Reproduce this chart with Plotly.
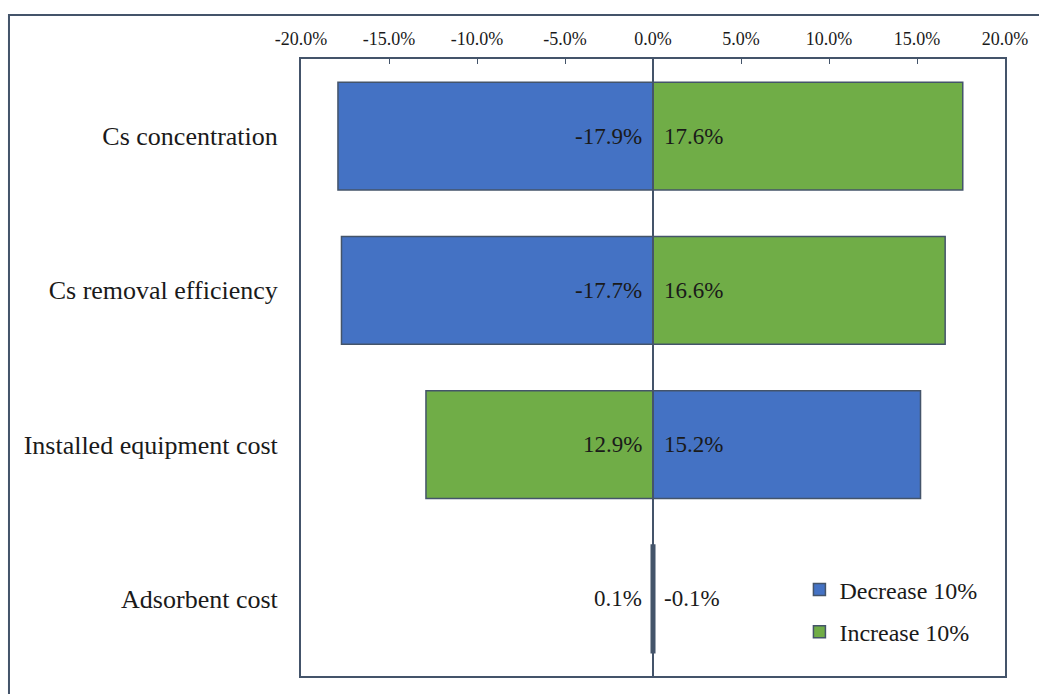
import plotly.graph_objects as go

# Sensitivity of the result to a ±10% change in each input
categories = ["Cs concentration", "Cs removal efficiency", "Installed equipment cost", "Adsorbent cost"]
decrease_vals = [-17.9, -17.7, 15.2, 0.1]
increase_vals = [17.6, 16.6, -12.9, -0.1]
decrease_labels = [-17.9, -17.7, 15.2, -0.1]
increase_labels = [17.6, 16.6, 12.9, 0.1]
tick_vals = [-20, -15, -10, -5, 0, 5, 10, 15, 20]
tick_text = ["-20.0%", "-15.0%", "-10.0%", "-5.0%", "0.0%", "5.0%", "10.0%", "15.0%", "20.0%"]

BLUE = "#4472C4"
GREEN = "#70AD47"
EDGE = "#44546A"
FONT = "Liberation Serif, Times New Roman, serif"

fig = go.Figure()
fig.add_trace(go.Bar(
    y=categories, x=decrease_vals, orientation="h", name="Decrease 10%",
    marker=dict(color=BLUE, line=dict(color=EDGE, width=1.5)),
    width=0.7, legendgroup="dec", hoverinfo="skip",
))
fig.add_trace(go.Bar(
    y=categories, x=increase_vals, orientation="h", name="Increase 10%",
    marker=dict(color=GREEN, line=dict(color=EDGE, width=1.5)),
    width=0.7, legendgroup="inc", hoverinfo="skip",
))

# Value labels sit next to the zero line, on the side of each bar
for vals, labs in ((decrease_vals, decrease_labels), (increase_vals, increase_labels)):
    for cat, v, lab in zip(categories, vals, labs):
        fig.add_annotation(
            x=0, y=cat, text=f"{lab:.1f}%", showarrow=False,
            xanchor="right" if v < 0 else "left",
            xshift=-9 if v < 0 else 9,
            font=dict(family=FONT, size=23, color="#1a1a1a"),
        )

# Zero line
fig.add_shape(type="line", xref="x", yref="paper", x0=0, x1=0, y0=0, y1=1,
              line=dict(color=EDGE, width=2), layer="above")

# Outer chart frame
fig.add_shape(type="rect", xref="paper", yref="paper",
              x0=-0.4148, x1=1.06, y0=-0.05, y1=1.0713,
              line=dict(color=EDGE, width=2), fillcolor="rgba(0,0,0,0)")

fig.update_layout(
    width=1039, height=694,
    margin=dict(l=301, r=34, t=59, b=18),
    paper_bgcolor="white", plot_bgcolor="white",
    barmode="overlay",
    font=dict(family=FONT, color="#1a1a1a"),
    xaxis=dict(
        range=[-20, 20], side="top", tickvals=tick_vals, ticktext=tick_text,
        ticks="inside", ticklen=5, tickcolor=EDGE, tickwidth=1,
        showgrid=False, zeroline=False,
        showline=True, mirror=True, linecolor=EDGE, linewidth=2,
        tickfont=dict(family=FONT, size=18, color="#1a1a1a"),
        ticklabelstandoff=5,
        fixedrange=True,
    ),
    yaxis=dict(
        categoryorder="array", categoryarray=categories, autorange="reversed",
        showgrid=False, zeroline=False, ticks="",
        showline=True, mirror=True, linecolor=EDGE, linewidth=2,
        tickfont=dict(family=FONT, size=26, color="#1a1a1a"),
        ticklabelstandoff=16,
        fixedrange=True,
    ),
    legend=dict(
        x=0.708, y=0.176, xanchor="left", yanchor="top",
        bgcolor="rgba(0,0,0,0)", traceorder="grouped", tracegroupgap=8,
        font=dict(family=FONT, size=24, color="#1a1a1a"),
        itemwidth=30,
    ),
    showlegend=True,
)

fig.write_html("out.html")
